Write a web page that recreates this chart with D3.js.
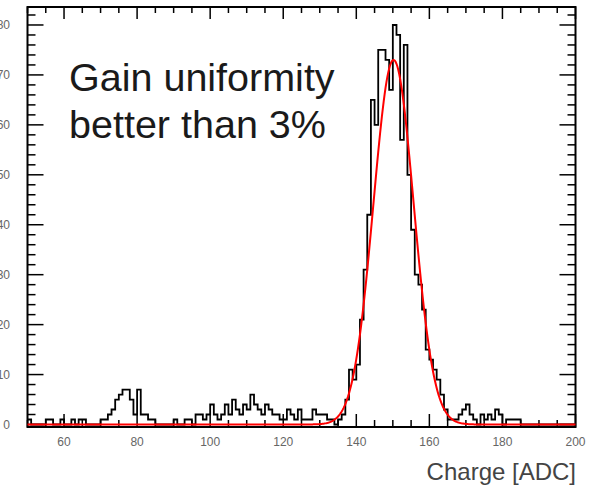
<!DOCTYPE html>
<html>
<head>
<meta charset="utf-8">
<script src="https://cdn.jsdelivr.net/npm/d3@7"></script>
<style>
  body { margin: 0; background: #fff; }
  svg { display: block; }
</style>
</head>
<body>
<script>
var width = 592;
var height = 488;

// bin low edges, width 1 ADC
var binStart = 50;
var binWidth = 1;
var counts = [
    1,0,0,0,0,1,1,0,0,1,
    0,0,1,0,1,1,0,0,0,0,
    1,1,2,3,5,6,7,7,5,2,
    7,2,2,1,1,0,0,0,0,0,
    1,0,0,1,1,0,2,2,1,2,
    4,2,1,2,4,2,5,3,2,4,
    3,6,4,3,2,4,3,2,2,1,
    1,3,2,1,3,1,1,1,3,2,
    2,2,1,1,0,1,2,5,11,9,
    12,21,31,42,65,60,75,75,73,67,
    80,78,57,76,50,39,30,28,23,15,
    13,11,9,6,3,1,1,1,2,3,
    4,2,1,0,2,1,2,1,3,2,
    0,1,1,1,1,0,0,0,0,0,
    0,0,0,0,0,0,0,0,0,0
]

// gaussian fit parameters
var fitAmp = 73;
var fitMean = 150.2;
var fitSigma = 5.5;

var xTicks = [60, 80, 100, 120, 140, 160, 180, 200];
var yTicks = [0, 10, 20, 30, 40, 50, 60, 70, 80];
var noteLines = ['Gain uniformity', 'better than 3%'];
var xTitle = 'Charge [ADC]';

var svg = d3.select('body').append('svg')
    .attr('width', width)
    .attr('height', height)

var yMax = 83.6;
var x = d3.scaleLinear().domain([50, 200]).range([27.5, 575.5]);
var y = d3.scaleLinear().domain([0, yMax]).range([424.5, 7]);
var frameBottom = 427;

var font = "'Liberation Sans', Arial, sans-serif";

// frame
svg.append('rect')
    .attr('x', x(50)).attr('y', y(yMax))
    .attr('width', x(200) - x(50)).attr('height', frameBottom - y(yMax))
    .attr('fill', 'none')
    .attr('stroke', '#000')
    .attr('stroke-width', 2)

// ticks, drawn inside the frame on all four sides
var xMinor = d3.range(50, 201, 5);
var yMinor = d3.range(0, 84, 2);

var tickG = svg.append('g').attr('stroke', '#000').attr('stroke-width', 1.5)
tickG.selectAll('.xb').data(xMinor).enter().append('line')
    .attr('x1', d => x(d)).attr('x2', d => x(d))
    .attr('y1', frameBottom).attr('y2', d => frameBottom - (d % 20 == 0 ? 13 : 7))
tickG.selectAll('.xt').data(xMinor).enter().append('line')
    .attr('x1', d => x(d)).attr('x2', d => x(d))
    .attr('y1', y(yMax)).attr('y2', d => y(yMax) + (d % 20 == 0 ? 12 : 6))
tickG.selectAll('.yl').data(yMinor).enter().append('line')
    .attr('y1', d => y(d)).attr('y2', d => y(d))
    .attr('x1', x(50)).attr('x2', d => x(50) + (d % 10 == 0 ? 16 : 8))
tickG.selectAll('.yr').data(yMinor).enter().append('line')
    .attr('y1', d => y(d)).attr('y2', d => y(d))
    .attr('x1', x(200)).attr('x2', d => x(200) - (d % 10 == 0 ? 16 : 8))

// histogram outline
var steps = [];
counts.forEach((c, i) => {
    var lo = binStart + i * binWidth;
    steps.push([lo, c]);
    steps.push([lo + binWidth, c]);
})
var histLine = d3.line().x(d => x(d[0])).y(d => y(d[1]));
svg.append('path')
    .attr('d', histLine(steps))
    .attr('fill', 'none')
    .attr('stroke', '#000')
    .attr('stroke-width', 1.8)

// fit curve
var fitPts = d3.range(50, 200.01, 0.25).map(v => [v, fitAmp * Math.exp(-Math.pow(v - fitMean, 2) / (2 * fitSigma * fitSigma))]);
svg.append('path')
    .attr('d', d3.line().x(d => x(d[0])).y(d => y(d[1]))(fitPts))
    .attr('fill', 'none')
    .attr('stroke', '#ff0000')
    .attr('stroke-width', 2)

// tick labels
svg.selectAll('.xlab').data(xTicks).enter().append('text')
    .attr('x', d => x(d)).attr('y', 446)
    .attr('text-anchor', 'middle')
    .attr('font-family', font).attr('font-size', 12)
    .attr('fill', '#666')
    .text(d => d)

svg.selectAll('.ylab').data(yTicks).enter().append('text')
    .attr('x', 10).attr('y', d => y(d) + 4)
    .attr('text-anchor', 'end')
    .attr('font-family', font).attr('font-size', 12)
    .attr('fill', '#666')
    .text(d => d)

svg.append('text')
    .attr('x', 576).attr('y', 480)
    .attr('text-anchor', 'end')
    .attr('font-family', font).attr('font-size', 24)
    .attr('fill', '#444')
    .text(xTitle)

svg.selectAll('.note').data(noteLines).enter().append('text')
    .attr('x', 69).attr('y', (d, i) => 91 + i * 47)
    .attr('font-family', font).attr('font-size', 39.5)
    .attr('fill', '#1a1a1a')
    .text(d => d)
</script>
</body>
</html>
